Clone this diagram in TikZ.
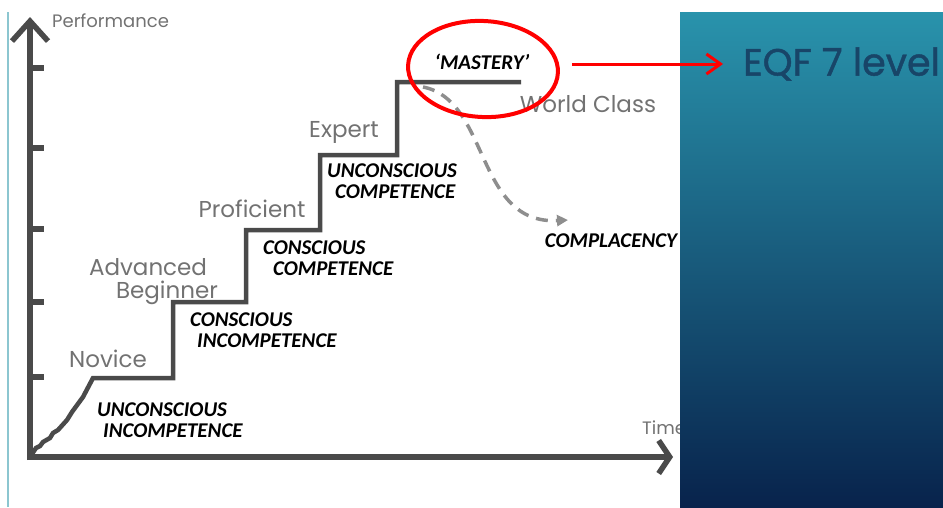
\documentclass[tikz,border=0pt]{standalone}
\usepackage{fontspec}
\setmainfont{Carlito}
\newfontfamily\mainlevee{Poppins}
\newfontfamily\titre[FakeBold=1.2]{Poppins}
\usetikzlibrary{arrows.meta,shapes.geometric}
\definecolor{gristrait}{HTML}{4A4A4A}
\definecolor{grisnom}{HTML}{727272}
\definecolor{gristiret}{HTML}{8E8E8E}
\definecolor{bordcyan}{HTML}{8CC6D0}
\definecolor{panhaut}{HTML}{2993AC}
\definecolor{panmil}{HTML}{1C6A8C}
\definecolor{panbas}{HTML}{08234C}
\definecolor{bleutitre}{HTML}{184568}
\begin{document}
\begin{tikzpicture}[x=1pt,y=-1pt]
		\tikzstyle{axe}=[draw=gristrait, line width=5.5pt]
		\tikzstyle{marche}=[draw=gristrait, line width=4.5pt, line join=miter]
		\tikzstyle{niveau}=[text=grisnom, inner sep=0pt, font=\mainlevee\fontsize{23}{23}\selectfont]
		\tikzstyle{petit}=[text=grisnom, inner sep=0pt, font=\mainlevee\fontsize{18}{18}\selectfont]
		\tikzstyle{etat}=[inner sep=0pt, align=left, font=\bfseries\itshape\fontsize{21}{21}\selectfont]
		\useasboundingbox (0,0) rectangle (943,507);
		\draw[bordcyan, line width=1.5pt] (8,12) -- (8,507); % bord
		\coordinate (O) at (30,457);
		\draw[axe, -{Straight Barb[length=20pt,width=36pt]}] (30,460) -- (30,17); % performance
		\draw[axe, -{Straight Barb[length=11pt,width=33pt]}] (27,457) -- (673,457); % temps
		\foreach \y in {68,148,229,302,377}
			\draw[axe] (30,\y) -- (44,\y);
		\draw[marche] (O) -- (36,448) -- (40,446) -- (43,442) -- (50,438) -- (53,433) -- (58,430) -- (67,420) -- (72,412) -- (83,397) -- (93,378)
			-- (173,378) -- (173,302) -- (246,302) -- (246,230) -- (320,230) -- (320,155) -- (397,155) -- (397,82) -- (521,82);
		\node[petit, anchor=base west] (perf) at (52,27) {Performance};
		\node[niveau, anchor=base] (novice) at (108,367) {Novice};
		\node[niveau, anchor=base] (avance) at (148,275) {Advanced};
		\node[niveau, anchor=base] (debutant) at (167,298) {Beginner};
		\node[niveau, anchor=base] (competent) at (252,217) {Proficient};
		\node[niveau, anchor=base] (expert) at (344,137) {Expert};
		\node[niveau, anchor=base] (monde) at (588,112) {World Class};
		\node[petit, anchor=base west] (temps) at (642,434) {Time};
		\node[etat, anchor=west] (ui) at (97,420) {UNCONSCIOUS\\\hspace*{6pt}INCOMPETENCE};
		\node[etat, anchor=west] (ci) at (190,330) {CONSCIOUS\\\hspace*{7pt}INCOMPETENCE};
		\node[etat, anchor=west] (cc) at (263,258) {CONSCIOUS\\\hspace*{10pt}COMPETENCE};
		\node[etat, anchor=west] (uc) at (327,181) {UNCONSCIOUS\\\hspace*{8pt}COMPETENCE};
		\node[etat] (maitrise) at (482,62) {‘MASTERY’};
		\node[etat] (complaisance) at (611,241) {COMPLACENCY};
		\coordinate (chute) at (423,87);
		\coordinate (finchute) at (568,220);
		\draw[gristiret, line width=3.5pt, dash pattern=on 12pt off 8pt, -{Triangle[length=11pt,width=11pt]}]
			(chute) .. controls (490,100) and (475,225) .. (finchute); % complaisance
		\node[draw=red, line width=4pt, ellipse, minimum width=150pt, minimum height=96pt, rotate=-3] (anneau) at (483,69) {};
		% panneau de droite
		\shade[top color=panhaut, middle color=panmil, bottom color=panbas] (680,12) rectangle (943,507);
		\begin{scope}
			\clip (680,12) rectangle (943,507);
			\node[text=bleutitre, inner sep=0pt, anchor=west, font=\titre\fontsize{38}{38}\selectfont] (eqf) at (743,64) {EQF 7 level};
		\end{scope}
		\draw[red, line width=3pt, -{Straight Barb[length=14pt,width=20pt]}] ([xshift=12pt]anneau.east |- eqf.west) -- ([xshift=-20pt]eqf.west);
	\end{tikzpicture}
\end{document}
